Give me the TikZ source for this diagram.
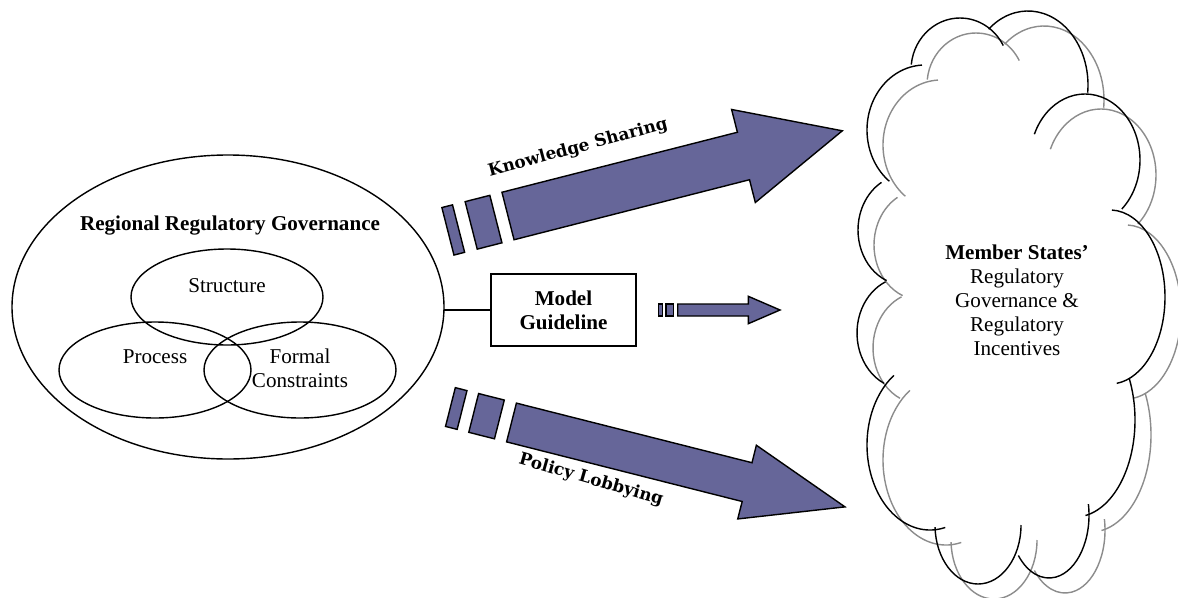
\documentclass[tikz,border=0pt]{standalone}
\usepackage{fontspec}
\setmainfont{Liberation Serif}
\newfontfamily\arrowfont{DejaVu Serif}

\definecolor{arrowblue}{RGB}{102,102,153}
\newcommand{\pxunit}{0.025cm}
% one bump of the cloud: centre x, centre y, x radius, y radius, start, end
\newcommand{\cloudbump}[6]{\draw (#1,#2) ++(#5:#3 and #4) arc[start angle=#5, end angle=#6, x radius=#3, y radius=#4];}
\newcommand{\cloudline}{%
  \cloudbump{925}{130}{58}{65}{128}{267}
  \cloudbump{960}{70}{49}{52}{186}{332}
  \cloudbump{1028}{85}{60}{74}{229}{366}
  \cloudbump{1085}{160}{55}{66}{203}{408}
  \cloudbump{1110}{297}{55}{87}{272}{443}
  \cloudbump{1075}{420}{60}{97}{335}{440}
  \cloudbump{1049}{515}{40}{63}{-10}{140}
  \cloudbump{978}{525}{43}{59}{0}{178}
  \cloudbump{930}{445}{63}{85}{76}{235}
  \cloudbump{905}{333}{48}{56}{116}{246}
  \cloudbump{905}{230}{47}{55}{113}{240}
}

\tikzset{
  thinline/.style={line width=1pt},
  bluearrow/.style={draw=black, line width=1pt, fill=arrowblue, line join=miter},
  arrowlabel/.style={font=\arrowfont\bfseries\fontsize{12}{14}\selectfont, inner sep=0pt},
}

\begin{document}
\begin{tikzpicture}[x=\pxunit, y=-\pxunit, font=\fontsize{15}{17}\selectfont]
\useasboundingbox (0,0) rectangle (1178,598);

% regional regulatory governance
\coordinate (G0) at (228,307);
\coordinate (S0) at (227,297);
\coordinate (P0) at (155,370);
\coordinate (F0) at (300,370);
\coordinate (G1) at (444,310);
\draw[thinline] (G0) ellipse [x radius=216, y radius=152];
\draw[thinline] (S0) ellipse [x radius=96, y radius=48];
\draw[thinline] (P0) ellipse [x radius=96, y radius=48];
\draw[thinline] (F0) ellipse [x radius=96, y radius=48];

\node[font=\fontsize{15}{17}\selectfont\bfseries] (rrgtitle) at (230,226) {Regional Regulatory Governance};
\node (structure) at (227,286) {Structure};
\node (process) at (155,357) {Process};
\node[align=center] (formal) at (300,368) {Formal\\Constraints};

% model guideline
\node[draw, thinline, minimum width=145*\pxunit, minimum height=72*\pxunit, align=center,
      font=\fontsize{15}{17}\selectfont\bfseries] (model) at (563.5,310) {Model\\Guideline};
\draw[thinline] (G1) -- (model.west);

% knowledge sharing arrow
\begin{scope}[shift={(508,216)}, rotate=14.3]
  \draw[bluearrow] (-62,-24.5) rectangle (-51,24.5);
  \draw[bluearrow] (-38,-24.5) rectangle (-12.5,24.5);
  \draw[bluearrow] (0,-24.5) -- (243,-24.5) -- (243,-48) -- (345,0) -- (243,48) -- (243,24.5) -- (0,24.5) -- cycle;
\end{scope}
\node[arrowlabel, rotate=15] (knowledge) at (578,148) {Knowledge Sharing};

% model guideline arrow
\draw[bluearrow] (658.3,304) rectangle (662.7,316);
\draw[bluearrow] (666,304) rectangle (673.3,316);
\draw[bluearrow] (677.7,304) -- (748.3,304) -- (748.3,296.3) -- (780,310) -- (748.3,323.7) -- (748.3,316) -- (677.7,316) -- cycle;

% policy lobbying arrow
\begin{scope}[shift={(511.5,422.5)}, rotate=-14.2]
  \draw[bluearrow] (-63,-20) rectangle (-51,20);
  \draw[bluearrow] (-39,-20) rectangle (-12.5,20);
  \draw[bluearrow] (0,-20) -- (243,-20) -- (243,-38) -- (344,0) -- (243,38) -- (243,20) -- (0,20) -- cycle;
\end{scope}
\node[arrowlabel, rotate=-16] (lobbying) at (591,480) {Policy Lobbying};

% member states cloud
\begin{scope}[shift={(16,15)}, color=black!45, thinline]
  \cloudline
\end{scope}
\begin{scope}[thinline]
  \cloudline
\end{scope}
\node[align=center] (members) at (1017,300) {\textbf{Member States'}\\Regulatory\\Governance \&\\Regulatory\\Incentives};

\end{tikzpicture}
\end{document}
